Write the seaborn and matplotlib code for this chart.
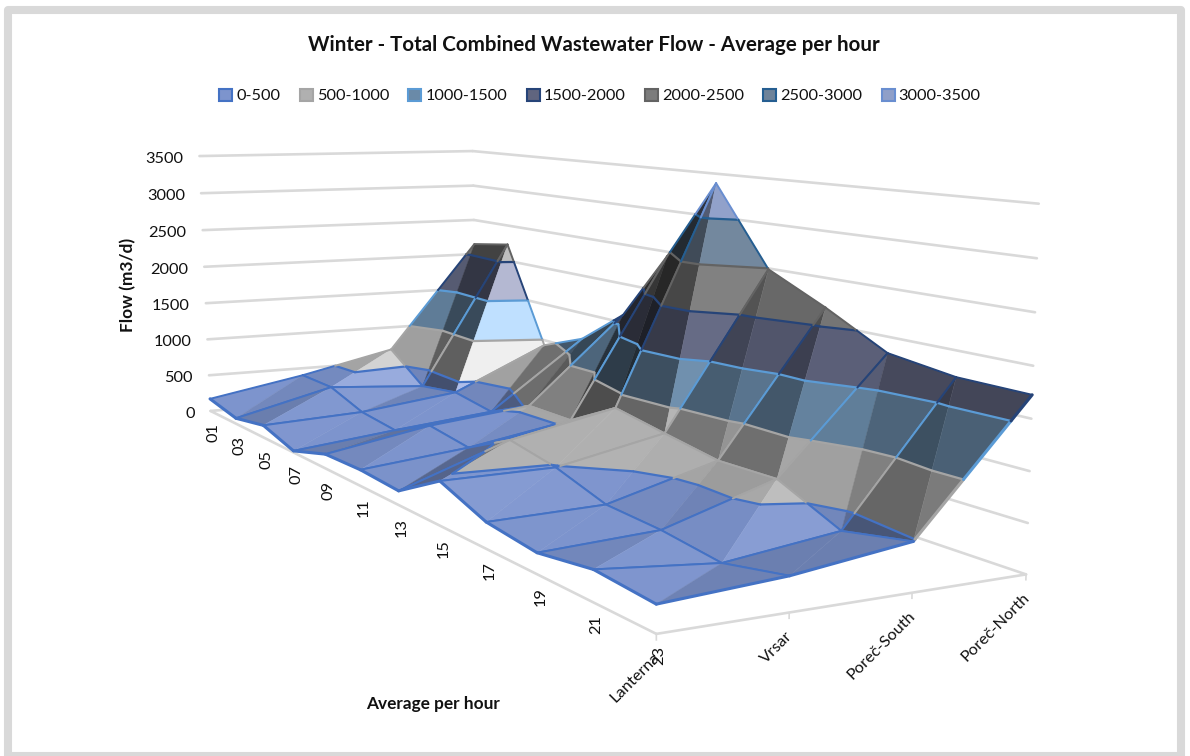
import numpy as np
import matplotlib
matplotlib.use("Agg")
import matplotlib.pyplot as plt
import seaborn as sns
from matplotlib.colors import to_rgb
from matplotlib.patches import Patch, Rectangle
from mpl_toolkits.mplot3d import proj3d
from mpl_toolkits.mplot3d.art3d import Poly3DCollection, Line3DCollection

# --- data ---
hours = ["01", "03", "05", "07", "09", "11", "13", "15", "17", "19", "21", "23"]
sites = ["Lanterna", "Vrsar", "Poreč-South", "Poreč-North"]
lanterna = [170, 75, 160, 20, 175, 190, 160, 480, 275, 210, 305, 260]
vrsar = [400, 390, 220, 160, 400, 320, 600, 490, 305, 273, 195, 333]
porec_south = [677, 300, 376, 285, 535, 530, 852, 740, 633, 644, 344, 482]
porec_north = [2147, 2230, 930, 1157, 1600, 2450, 3390, 2490, 2180, 1830, 1736, 1726]
band_labels = ["0-500", "500-1000", "1000-1500", "1500-2000", "2000-2500", "2500-3000", "3000-3500"]
levels = [0, 500, 1000, 1500, 2000, 2500, 3000, 3500]

# --- style ---
sns.set_theme(style="white")
plt.rcParams["font.family"] = ["Lato", "DejaVu Sans"]
WIDTH, HEIGHT = 1190, 756
line_colors = sns.color_palette(["#4472C4", "#A5A5A5", "#5B9BD5", "#264478", "#636363", "#255E91", "#698ED0"])
fill_colors = sns.color_palette(["#7D94CD", "#B0B0B0", "#6A8AA8", "#60657F", "#7C7C7C", "#6F8399", "#8F9FC8"])
lit_colors = sns.color_palette(["#AEBDEA", "#EFEFEF", "#BFE0FF", "#B4B8D2", "#BEBEBE", "#A8C0D8", "#B0BEE0"])
GRID = "#D9D9D9"
TEXT = "#111111"

# camera: box corners and floor ticks against where they sit in the picture
anchors = [
    ((0, 0, 0), (210, 410)), ((0, 0, 3500), (200, 157)),
    ((0, 3, 0), (478, 390)), ((0, 3, 3500), (472, 150)),
    ((11, 3, 0), (1025, 573)), ((11, 3, 3500), (1039, 204)),
    ((11, 0, 0), (657, 635)), ((11, 1, 0), (790, 613)), ((11, 2, 0), (912, 593)),
    ((5, 0, 0), (360, 485)),
]


def fit_camera():
    rows = []
    for (x, y, z), (u, v) in anchors:
        X = [x / 11, y / 3, z / 3500, 1]
        u, v = u / WIDTH, v / HEIGHT
        rows.append(X + [0, 0, 0, 0] + [-u * c for c in X])
        rows.append([0, 0, 0, 0] + X + [-v * c for c in X])
    p = np.linalg.svd(np.array(rows))[2][-1].reshape(3, 4)
    p = np.diag([WIDTH, HEIGHT, 1]) @ p @ np.diag([1 / 11, 1 / 3, 1 / 3500, 1])
    p = p / (p[2] @ [5.5, 1.5, 1750, 1])
    return np.vstack([p[0], p[1], [0, 0, 0, -1], p[2]])


def clip_half(poly, level, above):
    out = []
    for a, b in zip(poly, poly[1:] + poly[:1]):
        a_in = a[2] >= level if above else a[2] <= level
        b_in = b[2] >= level if above else b[2] <= level
        if a_in:
            out.append(a)
        if a_in != b_in:
            t = (level - a[2]) / (b[2] - a[2])
            out.append(tuple(np.array(a) + t * (np.array(b) - np.array(a))))
    return out


def shade(tri, band):
    p = np.array(tri, dtype=float) * [1 / 11, 1 / 3, 0.5 / 3500]
    n = np.cross(p[1] - p[0], p[2] - p[0])
    n = n / np.linalg.norm(n) * np.sign(n[2])
    t = 0.8 * n[0] + 1.1 * n[1]
    base = np.array(to_rgb(fill_colors[band]))
    if t > 0:
        lit = np.array(to_rgb(lit_colors[band]))
        return tuple(base + (lit - base) * min(2.8 * t * t, 1.0))
    return tuple(base * (1 + max(0.6 * t, -0.7)))


def band_of(z):
    return min(max(np.searchsorted(levels, z, side="right") - 1, 0), 6)


def split_edge(a, b):
    # cut one mesh edge at the band levels, so each piece takes its band colour
    cuts = [0.0, 1.0]
    for lev in levels:
        if (a[2] - lev) * (b[2] - lev) < 0:
            cuts.append((lev - a[2]) / (b[2] - a[2]))
    cuts.sort()
    a, b = np.array(a, dtype=float), np.array(b, dtype=float)
    segs, cols = [], []
    for t0, t1 in zip(cuts, cuts[1:]):
        p0, p1 = a + t0 * (b - a), a + t1 * (b - a)
        segs.append([p0, p1])
        cols.append(line_colors[band_of((p0[2] + p1[2]) / 2)])
    return segs, cols


def contour(tri):
    segs, cols = [], []
    for i, lev in enumerate(levels[1:-1]):
        pts = []
        for a, b in zip(tri, tri[1:] + tri[:1]):
            if (a[2] - lev) * (b[2] - lev) < 0:
                t = (lev - a[2]) / (b[2] - a[2])
                pts.append(np.array(a) + t * (np.array(b) - np.array(a)))
        if len(pts) == 2:
            segs.append(pts)
            cols.append(line_colors[i])
    return segs, cols


fig = plt.figure(figsize=(WIDTH / 100, HEIGHT / 100), dpi=100, facecolor="white")
ax = fig.add_axes([0, 0, 1, 1], projection="3d", computed_zorder=False)
ax.set_axis_off()
M = fit_camera()
ax.get_proj = lambda: M
ax.apply_aspect = lambda position=None: None
ax.viewLim.intervalx = (0, WIDTH)
ax.viewLim.intervaly = (HEIGHT, 0)

# walls and floor
wall = []
for lev in levels:
    wall += [[(0, 0, lev), (0, 3, lev)], [(0, 3, lev), (11, 3, lev)]]
wall += [[(0, 0, 0), (11, 0, 0)], [(11, 0, 0), (11, 3, 0)]]
ax.add_collection3d(Line3DCollection(wall, colors=GRID, linewidths=1.9, capstyle="round", zorder=1),
                    autolim=False)
ticks = [[(11, s, 0), (11, s, -60)] for s in range(4)]
ax.add_collection3d(Line3DCollection(ticks, colors=GRID, linewidths=1.2, zorder=1), autolim=False)

# surface, painted cell by cell from the far corner to the near one
flow = np.array([lanterna, vrsar, porec_south, porec_north], dtype=float)
order = 10
for s in [2, 1, 0]:
    for k in range(len(hours) - 1):
        v = lambda kk, ss: (kk, ss, flow[ss, kk])
        tris = [[v(k, s), v(k + 1, s), v(k, s + 1)],
                [v(k + 1, s), v(k + 1, s + 1), v(k, s + 1)]]
        faces, face_cols = [], []
        segs, seg_cols, seg_w = [], [], []
        for tri in tris:
            for band in range(7):
                piece = clip_half(clip_half(tri, levels[band], True), levels[band + 1], False)
                if len(piece) >= 3:
                    faces.append(piece)
                    face_cols.append(shade(tri, band))
            cs, cc = contour(tri)
            segs += cs
            seg_cols += cc
            seg_w += [1.6] * len(cs)
        edges = [(v(k, s), v(k + 1, s), s == 0), (v(k + 1, s), v(k + 1, s + 1), k == 10),
                 (v(k, s + 1), v(k + 1, s + 1), False), (v(k, s), v(k, s + 1), False)]
        for a, b, outer in edges:
            es, ec = split_edge(a, b)
            segs += es
            seg_cols += ec
            seg_w += [2.2 if outer else 1.4] * len(es)
        ax.add_collection3d(Poly3DCollection(faces, facecolors=face_cols, edgecolors=face_cols,
                                             linewidths=0.3, zorder=order), autolim=False)
        ax.add_collection3d(Line3DCollection(segs, colors=seg_cols, linewidths=seg_w,
                                             capstyle="round", zorder=order + 0.5), autolim=False)
        order += 1


def label(x, y, z, text, dx, dy, **kw):
    # axis labels follow the projected point, nudged by a few pixels
    u, w, _ = proj3d.proj_transform(x, y, z, M)
    fig.text((u + dx) / WIDTH, 1 - (w + dy) / HEIGHT, text, fontsize=11.8, color=TEXT, **kw)


for lev in levels:
    label(0, 0, lev, str(lev), -16, 3, ha="right", va="center")
for k, lab in enumerate(hours):
    label(k, 0, 0, lab, 3, 22, rotation=90, ha="center", va="center")
for s, lab in enumerate(sites):
    label(11, s, 0, lab, -4, 16, rotation=45, rotation_mode="anchor", ha="right", va="top")

fig.text(594 / WIDTH, 1 - 45 / HEIGHT, "Winter - Total Combined Wastewater Flow - Average per hour",
         ha="center", va="center", fontsize=14.8, fontweight="bold", color=TEXT)
fig.text(128 / WIDTH, 1 - 285 / HEIGHT, "Flow (m3/d)", rotation=90, ha="center", va="center",
         fontsize=12.4, fontweight="bold", color=TEXT)
fig.text(433 / WIDTH, 1 - 704 / HEIGHT, "Average per hour", ha="center", va="center",
         fontsize=12.4, fontweight="bold", color=TEXT)

handles = [Patch(facecolor=f, edgecolor=e, lw=1.5, label=l)
           for f, e, l in zip(fill_colors, line_colors, band_labels)]
fig.legend(handles=handles, loc="center", bbox_to_anchor=(600 / WIDTH, 1 - 96 / HEIGHT), ncol=7,
           frameon=False, fontsize=11.8, handlelength=0.8, handleheight=0.8, handletextpad=0.25,
           columnspacing=1.17, labelcolor=TEXT)

fig.add_artist(Rectangle((8 / WIDTH, 1 - 756.5 / HEIGHT), 1172.5 / WIDTH, 746.5 / HEIGHT, fill=False,
                         edgecolor=GRID, lw=5.8, joinstyle="round", transform=fig.transFigure))

fig.savefig("out.png", dpi=100)
